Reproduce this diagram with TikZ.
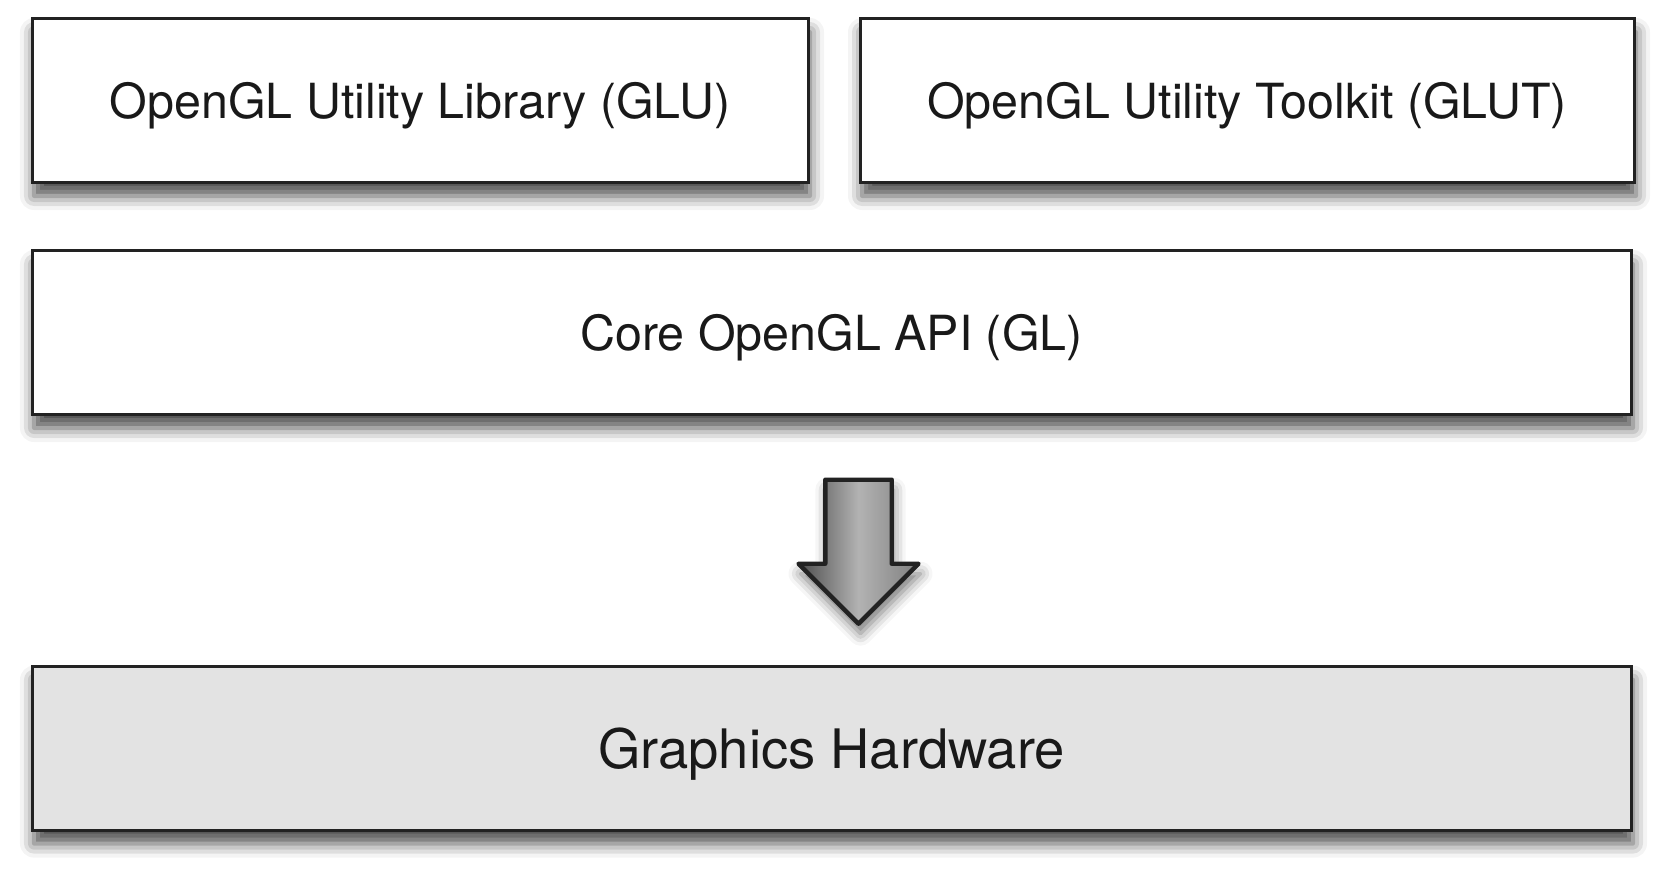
\documentclass[tikz,border=0pt]{standalone}
\usepackage{fontspec}
\setmainfont{TeX Gyre Heros}
\usepackage{xcolor}
\usepackage{tikz}
\usetikzlibrary{positioning, shapes.arrows, shadows.blur}

\definecolor{edge}{HTML}{222222}
\definecolor{hwfill}{HTML}{E3E3E3}

\begin{document}
\begin{tikzpicture}[
    layer/.style={
        rectangle,
        draw=edge,
        line width=1.5pt,
        fill=white,
        minimum height=82pt,
        inner sep=0pt,
        align=center,
        text=black!90,
        text height=17.4pt,
        text depth=0pt,
        font=\fontsize{24.2}{29}\selectfont,
        blur shadow={shadow xshift=1pt, shadow yshift=-6.5pt,
            shadow blur radius=7pt, shadow opacity=70}
    },
    downarrow/.style={
        single arrow,
        shape border rotate=270,
        draw=edge,
        line width=2.2pt,
        line join=round,
        inner sep=15.5pt,
        minimum width=60pt,
        minimum height=72pt,
        single arrow head extend=13.4pt,
        left color=black!70,
        right color=black!50,
        middle color=black!30,
        blur shadow={shadow xshift=1pt, shadow yshift=-5pt,
            shadow blur radius=6pt, shadow opacity=55}
    }
]

\useasboundingbox (0,0) rectangle (833.5pt,-438.5pt);

% Top row

\node[layer, minimum width=388pt] (glu) at (210pt,-50.5pt) {OpenGL Utility Library (GLU)};

\node[layer, minimum width=387pt, right=24.5pt of glu] (glut) {OpenGL Utility Toolkit (GLUT)};

% Core and hardware

\node[layer, minimum width=799.5pt, below=32.5pt of glu.south west, anchor=north west] (core) {Core OpenGL API (GL)};

\node[layer, minimum width=799.5pt, fill=hwfill, text height=19.5pt,
    font=\fontsize{27.2}{32}\selectfont, below=124.3pt of core] (hw) {Graphics Hardware};

% Arrow

\node[downarrow, below=30.5pt of core.south -| glut.west, anchor=north] (down) {};

\end{tikzpicture}
\end{document}
